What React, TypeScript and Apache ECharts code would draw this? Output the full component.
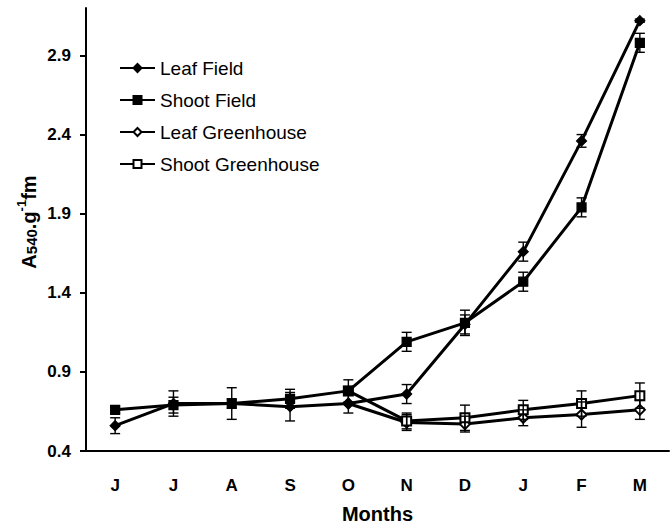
import React, { useEffect, useRef } from "react";
import * as echarts from "echarts";

const months = ["J", "J", "A", "S", "O", "N", "D", "J", "F", "M"];
const yTicks = [0.4, 0.9, 1.4, 1.9, 2.4, 2.9];

const leafField = [0.56, 0.7, 0.7, 0.68, 0.7, 0.76, 1.2, 1.66, 2.36, 3.12];
const leafFieldErr = [0.05, 0.08, 0.1, 0.09, 0.06, 0.06, 0.06, 0.06, 0.04, 0.01];
const shootField = [0.66, 0.69, 0.7, 0.73, 0.78, 1.09, 1.21, 1.47, 1.94, 2.98];
const shootFieldErr = [0.02, 0.05, 0.03, 0.06, 0.07, 0.06, 0.08, 0.06, 0.06, 0.06];
const leafGreenhouse = [null, null, null, null, 0.7, 0.58, 0.57, 0.61, 0.63, 0.66];
const leafGreenhouseErr = [0, 0, 0, 0, 0, 0.05, 0.05, 0.05, 0.08, 0.06];
const shootGreenhouse = [null, null, null, null, 0.78, 0.59, 0.61, 0.66, 0.7, 0.75];
const shootGreenhouseErr = [0, 0, 0, 0, 0, 0.05, 0.08, 0.06, 0.08, 0.08];

const FONT = "'Liberation Sans', Arial, sans-serif";

function errSeries(name: string, vals: (number | null)[], errs: number[]) {
  const data = vals
    .map((v, i) => (v == null || !errs[i] ? null : [i, v, errs[i]]))
    .filter((d) => d !== null);
  return {
    type: "custom",
    name: name + " err",
    z: 4,
    silent: true,
    data,
    renderItem: (params: any, api: any) => {
      const x = api.value(0);
      const v = api.value(1);
      const e = api.value(2);
      const top = api.coord([x, v + e]);
      const bot = api.coord([x, v - e]);
      const cx = top[0];
      const hw = 5;
      const style = { stroke: "#000", lineWidth: 1.4 };
      return {
        type: "group",
        children: [
          { type: "line", shape: { x1: cx, y1: top[1], x2: cx, y2: bot[1] }, style },
          { type: "line", shape: { x1: cx - hw, y1: top[1], x2: cx + hw, y2: top[1] }, style },
          { type: "line", shape: { x1: cx - hw, y1: bot[1], x2: cx + hw, y2: bot[1] }, style },
        ],
      };
    },
  };
}

function lineSeries(name: string, vals: (number | null)[], symbol: string, size: number, z: number) {
  return {
    type: "line",
    name,
    data: vals,
    symbol,
    symbolSize: size,
    z,
    lineStyle: { color: "#000", width: 3 },
    itemStyle: { color: "#000", borderColor: "#000", borderWidth: 1.2 },
    emphasis: { disabled: true },
  };
}

export default function App() {
  const ref = useRef<HTMLDivElement>(null);
  useEffect(() => {
    if (!ref.current) return;
    const chart = echarts.init(ref.current, null, { renderer: "svg" });
    chart.setOption({
      animation: false,
      backgroundColor: "#fff",
      grid: { left: 86, right: 2, top: 8, bottom: 74, containLabel: false, outerBoundsMode: "none" },
      legend: {
        orient: "vertical",
        left: 114,
        top: 53,
        itemWidth: 35,
        itemHeight: 10,
        itemGap: 12,
        textStyle: { fontFamily: FONT, fontSize: 19, color: "#000", lineHeight: 20 },
        data: ["Leaf Field", "Shoot Field", "Leaf Greenhouse", "Shoot Greenhouse"],
      },
      xAxis: {
        type: "category",
        data: months,
        boundaryGap: true,
        axisLine: { lineStyle: { color: "#000", width: 2 } },
        axisTick: { length: 6, lineStyle: { color: "#000", width: 2 } },
        axisLabel: { fontFamily: FONT, fontSize: 17, fontWeight: "bold", color: "#000", margin: 26 },
        name: "Months",
        nameLocation: "middle",
        nameGap: 53,
        nameMoveOverlap: false,
        nameTextStyle: { fontFamily: FONT, fontSize: 20, fontWeight: "bold", color: "#000", verticalAlign: "top" },
      },
      yAxis: {
        type: "value",
        min: 0.4,
        max: 3.2,
        splitLine: { show: false },
        axisLine: { show: true, lineStyle: { color: "#000", width: 2 } },
        axisTick: { show: true, length: 6, customValues: yTicks, lineStyle: { color: "#000", width: 2 } },
        axisLabel: {
          customValues: yTicks,
          formatter: (v: number) => v.toFixed(1),
          fontFamily: FONT,
          fontSize: 17,
          fontWeight: "bold",
          color: "#000",
          margin: 15,
        },
      },
      graphic: [
        {
          type: "text",
          x: 27,
          y: 222,
          rotation: Math.PI / 2,
          style: {
            text: "{a|A}{sub|540}{a|.g}{sup|-1}{a|fm}",
            align: "center",
            verticalAlign: "middle",
            fill: "#000",
            rich: {
              a: { fontFamily: FONT, fontSize: 20, fontWeight: "bold", fill: "#000", lineHeight: 24, verticalAlign: "bottom" },
              sub: { fontFamily: FONT, fontSize: 15, fontWeight: "bold", fill: "#000", lineHeight: 24, verticalAlign: "bottom" },
              sup: { fontFamily: FONT, fontSize: 13, fontWeight: "bold", fill: "#000", lineHeight: 24, verticalAlign: "top" },
            },
          },
        },
      ],
      series: [
        lineSeries("Leaf Greenhouse", leafGreenhouse, "emptyDiamond", 10, 2),
        lineSeries("Shoot Greenhouse", shootGreenhouse, "emptyRect", 9, 2),
        lineSeries("Leaf Field", leafField, "diamond", 10, 3),
        lineSeries("Shoot Field", shootField, "rect", 9, 3),
        errSeries("Leaf Field", leafField, leafFieldErr),
        errSeries("Shoot Field", shootField, shootFieldErr),
        errSeries("Leaf Greenhouse", leafGreenhouse, leafGreenhouseErr),
        errSeries("Shoot Greenhouse", shootGreenhouse, shootGreenhouseErr),
      ],
    });
    return () => chart.dispose();
  }, []);
  return <div ref={ref} style={{ width: 671, height: 525, position: "absolute", left: 0, top: 0 }} />;
}
